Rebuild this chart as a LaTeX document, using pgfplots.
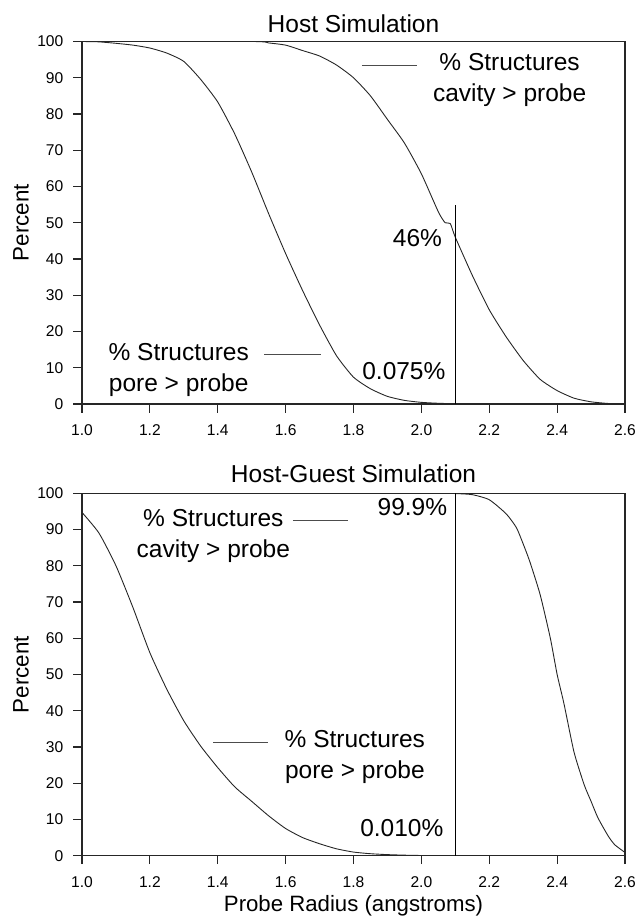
\documentclass[border=0pt]{standalone}
\usepackage{pgfplots}
\pgfplotsset{compat=1.18}
\usepackage{fontspec}
\setmainfont{Liberation Sans}

\tikzset{lab/.style={font=\fontsize{12.25}{15.4}\selectfont, inner sep=0pt, align=center}}
\pgfplotsset{
  panel/.style={
    scale only axis,
    width=271.5pt, height=181.25pt,
    xmin=1.0, xmax=2.6, ymin=0, ymax=100,
    xtick={1.0,1.2,...,2.6},
    ytick={0,10,...,100},
    tick pos=left, tick align=outside,
    major tick length=4.25pt,
    axis line style={line width=0.6pt, black!85},
    every tick/.style={line width=0.6pt, black!85},
    /pgf/number format/assume math mode=true,
    xticklabel style={font=\fontsize{7.8}{9}\selectfont, anchor=base, inner sep=0pt, yshift=-11.5pt,
      /pgf/number format/.cd, fixed, fixed zerofill, precision=1},
    yticklabel style={font=\fontsize{7.8}{9}\selectfont, anchor=east, inner sep=0pt, xshift=-4.9pt},
    ylabel={Percent},
    ylabel style={at={(axis description cs:-0.1123,0.5)}, anchor=center, font=\fontsize{11.2}{13}\selectfont},
    title style={at={(axis description cs:0.5,1)}, anchor=base, font=\fontsize{12.25}{14}\selectfont},
  },
  curve/.style={black!85, line width=0.45pt, no marks, smooth, tension=0.35},
  leader/.style={black!70, line width=0.45pt, no marks},
  vline/.style={black, line width=0.8pt, no marks},
}

\begin{document}
\begin{tikzpicture}
\useasboundingbox (0,0) rectangle (319.5pt,-459.5pt);

% ---------------- Top panel ----------------
\begin{axis}[panel, at={(41pt,-202pt)}, anchor=south west,
  title={Host Simulation}, title style={yshift=-1.5pt}]
% pore > probe
\addplot[curve] coordinates {
(1.00,100) (1.05,99.9) (1.10,99.5) (1.15,99.0) (1.20,98.2) (1.25,96.8)
(1.30,94.5) (1.35,89.5) (1.40,83.3) (1.45,74.5) (1.50,64) (1.55,52.5)
(1.60,41.5) (1.65,31.3) (1.70,21.8) (1.75,13.3) (1.80,7.4) (1.85,4.2)
(1.90,2.1) (1.95,1.0) (2.00,0.45) (2.05,0.2) (2.10,0.075) (2.20,0.02) (2.60,0)
};
% cavity > probe
\addplot[curve] coordinates {
(1.00,100) (1.50,100) (1.55,99.6) (1.60,99.0) (1.65,97.5) (1.70,96.0)
(1.75,93.5) (1.80,90.0) (1.85,85.0) (1.90,78.5) (1.95,72.0) (2.00,63.5)
(2.05,53.0) (2.07,50.0) (2.085,49.8) (2.10,46.0) (2.15,35.5) (2.20,26.0)
(2.25,18.5) (2.30,12.0) (2.35,6.8) (2.40,3.7) (2.45,1.6) (2.50,0.6)
(2.55,0.15) (2.60,0)
};
\addplot[vline] coordinates {(2.1,0) (2.1,55)};
\addplot[leader] coordinates {(1.825,93.3) (1.988,93.3)};
\addplot[leader] coordinates {(1.537,13.6) (1.705,13.6)};
\node[lab, anchor=center] at (axis cs:2.26,89.3) {\% Structures\\cavity > probe};
\node[lab, anchor=center] at (axis cs:1.285,9.45) {\% Structures\\pore > probe};
\node[lab, anchor=east] at (axis cs:2.062,45.9) {46\%};
\node[lab, anchor=east] at (axis cs:2.072,9.2) {0.075\%};
\end{axis}

% ---------------- Bottom panel ----------------
\begin{axis}[panel, at={(41pt,-427.85pt)}, anchor=south west,
  title={Host-Guest Simulation}, title style={yshift=-0.5pt},
  xlabel={Probe Radius (angstroms)},
  xlabel style={at={(axis description cs:0.5,-0.138)}, anchor=center, font=\fontsize{11.1}{13}\selectfont}]
% pore > probe
\addplot[curve] coordinates {
(1.00,94.7) (1.05,89.0) (1.10,80.0) (1.15,68.5) (1.20,56.0) (1.25,45.9)
(1.30,37.2) (1.35,30.2) (1.40,24.3) (1.45,19.0) (1.50,15.0) (1.55,11.0)
(1.60,7.5) (1.65,5.0) (1.70,3.3) (1.75,1.9) (1.80,1.0) (1.85,0.55)
(1.90,0.3) (1.95,0.15) (2.00,0.06) (2.10,0.01) (2.60,0)
};
% cavity > probe
\addplot[curve] coordinates {
(2.10,99.9) (2.15,99.6) (2.20,98.2) (2.25,94.3) (2.28,90.5) (2.30,86.0)
(2.32,81.0) (2.35,72.0) (2.38,60.0) (2.40,50.0) (2.42,42.0) (2.45,28.5)
(2.48,19.5) (2.50,15.0) (2.52,10.5) (2.55,5.5) (2.57,3.0) (2.60,0.9)
};
\addplot[vline] coordinates {(2.1,0) (2.1,100)};
\addplot[leader] coordinates {(1.621,92.4) (1.783,92.4)};
\addplot[leader] coordinates {(1.387,31.3) (1.549,31.3)};
\node[lab, anchor=center] at (axis cs:1.387,88.1) {\% Structures\\cavity > probe};
\node[lab, anchor=center] at (axis cs:1.804,27.25) {\% Structures\\pore > probe};
\node[lab, anchor=east] at (axis cs:2.077,96.3) {99.9\%};
\node[lab, anchor=east] at (axis cs:2.066,7.6) {0.010\%};
\end{axis}
\end{tikzpicture}
\end{document}
